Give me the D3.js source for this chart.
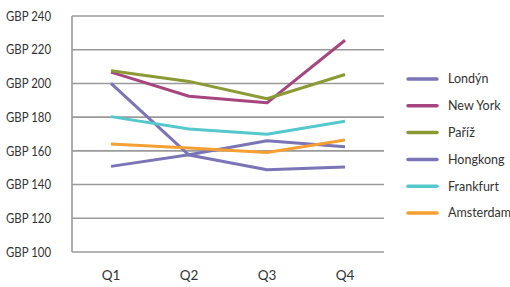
<!DOCTYPE html>
<html><head><meta charset="utf-8">
<script src="https://cdn.jsdelivr.net/npm/d3@7"></script>
<style>
body{margin:0;background:#fff;}
svg{display:block;font-family:Lato,"Open Sans",sans-serif;}
</style></head>
<body><svg id="c" width="510" height="287"></svg>
<script>
const quarters = ["Q1","Q2","Q3","Q4"];
const yTicks = [100,120,140,160,180,200,220,240];
const seriesNames = ["Londýn","New York","Paříž","Hongkong","Frankfurt","Amsterdam"];
const seriesColors = ["#7b74b6","#a6467f","#8b9a35","#7b74b6","#55c8cc","#f6a033"];
const londyn = [200, 157.5, 148.8, 150.4];
const newYork = [206.7, 192.4, 188.5, 225.6];
const pariz = [207.5, 201.2, 190.9, 205.3];
const hongkong = [150.8, 157.7, 166, 162.5];
const frankfurt = [180.3, 173, 169.8, 177.6];
const amsterdam = [164, 161.7, 159, 166.5];
const seriesValues = [londyn, newYork, pariz, hongkong, frankfurt, amsterdam];

const svg = d3.select("#c");
const x = d3.scaleBand().domain(quarters).range([72, 384]);
const y = d3.scaleLinear().domain([100, 240]).range([252, 16]);

// gridlines
svg.append("g").selectAll("line").data(yTicks).join("line")
  .attr("x1", 72).attr("x2", 384)
  .attr("y1", d => y(d)).attr("y2", d => y(d))
  .attr("stroke", "#9a9a9a").attr("stroke-width", 1.6);
svg.append("line").attr("x1", 72).attr("x2", 72).attr("y1", y(240)).attr("y2", y(100))
  .attr("stroke", "#9a9a9a").attr("stroke-width", 1.6);

// y labels
svg.append("g").selectAll("text").data(yTicks).join("text")
  .attr("x", 51).attr("y", d => y(d)).attr("dy", "0.35em")
  .attr("text-anchor", "end").attr("font-size", 13.5).attr("fill", "#333")
  .attr("textLength", 45).attr("lengthAdjust", "spacingAndGlyphs")
  .text(d => "GBP " + d);

// x labels
svg.append("g").selectAll("text").data(quarters).join("text")
  .attr("x", d => x(d) + x.bandwidth()/2).attr("y", 275).attr("dy", "0.35em")
  .attr("text-anchor", "middle").attr("font-size", 13.5).attr("fill", "#333")
  .text(d => d);

const line = d3.line().x((d,i) => x(quarters[i]) + x.bandwidth()/2).y(d => y(d));
svg.append("g").selectAll("path").data(seriesValues).join("path")
  .attr("d", d => line(d)).attr("fill", "none")
  .attr("stroke", (d,i) => seriesColors[i]).attr("stroke-width", 3)
  .attr("stroke-linejoin", "round");

// legend
const lg = svg.append("g").selectAll("g").data(seriesNames).join("g")
  .attr("transform", (d,i) => `translate(0,${79 + i*26.8})`);
lg.append("line").attr("x1", 408).attr("x2", 437).attr("y1", 0).attr("y2", 0)
  .attr("stroke", (d,i) => seriesColors[i]).attr("stroke-width", 3.5).attr("stroke-linecap", "round");
lg.append("text").attr("x", 448).attr("y", 0).attr("dy", "0.35em")
  .attr("font-size", 12.5).attr("fill", "#333").text(d => d);
</script></body></html>
